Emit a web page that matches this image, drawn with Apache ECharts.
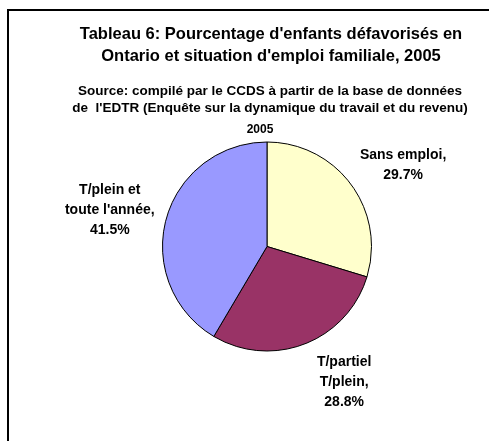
<!DOCTYPE html>
<html>
<head>
<meta charset="utf-8">
<script src="https://cdn.jsdelivr.net/npm/echarts@6/dist/echarts.min.js"></script>
<style>
  html, body { margin: 0; padding: 0; background: #fff; }
  #chart { width: 489px; height: 441px; }
</style>
</head>
<body>
<div id="chart"></div>
<script>
// categories / valeurs (%)
var categories = ['Sans emploi', 'T/partiel\nT/plein', "T/plein et\ntoute l'année"];
var values = [29.7, 28.8, 41.5];
var colors = ['#FFFFCC', '#993366', '#9999FF'];
// petits décalages des étiquettes (comme dans Excel)
var labelShift = [[11, 8], [18, -4], [-8, 3]];

var titleText = "Tableau 6: Pourcentage d'enfants défavorisés en\nOntario et situation d'emploi familiale, 2005";
var sourceText = "Source: compilé par le CCDS à partir de la base de données\nde  l'EDTR (Enquête sur la dynamique du travail et du revenu)";
var yearText = '2005';

var font = 'Arial, "Liberation Sans", sans-serif';

var pieData = categories.map(function (c, i) {
  return { name: c, value: values[i], itemStyle: { color: colors[i] } };
});

var chart = echarts.init(document.getElementById('chart'));
var option = {
  backgroundColor: '#fff',
  animation: false,
  title: [{
    text: titleText,
    left: 271, top: 23, padding: 0, textAlign: 'center',
    textStyle: { fontFamily: font, fontSize: 16.5, fontWeight: 'bold', color: '#000', lineHeight: 22 }
  }, {
    text: sourceText,
    left: 270, top: 83, padding: 0, textAlign: 'center',
    textStyle: { fontFamily: font, fontSize: 13.5, fontWeight: 'bold', color: '#000', lineHeight: 17 }
  }, {
    text: yearText,
    left: 260, top: 123, padding: 0, textAlign: 'center',
    textStyle: { fontFamily: font, fontSize: 12, fontWeight: 'bold', color: '#000', lineHeight: 14 }
  }],
  graphic: [{
    type: 'rect',
    shape: { x: 8, y: 10, width: 700, height: 700 },
    style: { fill: 'none', stroke: '#000', lineWidth: 2 },
    silent: true
  }],
  series: [{
    type: 'pie',
    center: [267, 246.5],
    radius: 104.5,
    startAngle: 90,
    clockwise: true,
    data: pieData,
    itemStyle: { borderColor: '#000', borderWidth: 1 },
    label: {
      show: true,
      position: 'outside',
      formatter: function (p) { return p.name + ',\n' + p.value.toFixed(1) + '%'; },
      fontFamily: font,
      fontSize: 14,
      fontWeight: 'bold',
      color: '#000',
      lineHeight: 20
    },
    labelLine: { show: false, length: 45, length2: 0 },
    labelLayout: function (params) {
      var s = labelShift[params.dataIndex];
      return { align: 'center', verticalAlign: 'middle', dx: s[0], dy: s[1] };
    },
    emphasis: { disabled: true }
  }]
};
chart.setOption(option);
</script>
</body>
</html>
